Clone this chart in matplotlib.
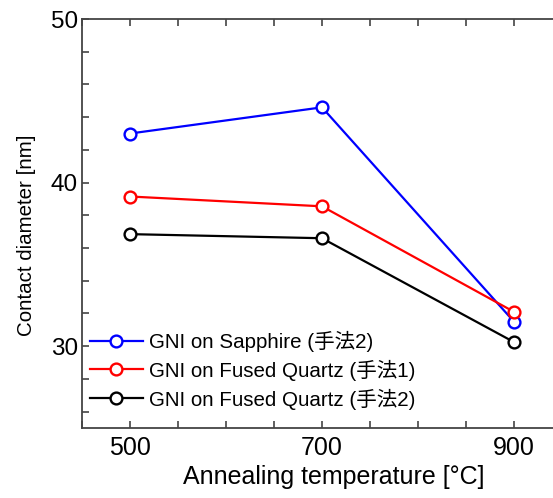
import matplotlib
matplotlib.use("Agg")
import matplotlib.pyplot as plt
from matplotlib.ticker import MultipleLocator

plt.rcParams['font.family'] = ['Liberation Sans', 'Noto Sans CJK JP', 'DejaVu Sans']

temps = [500, 700, 900]
sapphire_m2 = [43.0, 44.6, 31.5]
quartz_m1 = [39.15, 38.55, 32.1]
quartz_m2 = [36.85, 36.6, 30.25]
labels = ["GNI on Sapphire (手法2)", "GNI on Fused Quartz (手法1)", "GNI on Fused Quartz (手法2)"]
colors = ["#0000ff", "#ff0000", "#000000"]

fig = plt.figure(figsize=(5.53, 4.98), dpi=100)
ax = fig.add_axes([82/553, 1-428/498, (562-82)/553, (428-19)/498])

for ys, c, lab in zip([sapphire_m2, quartz_m1, quartz_m2], colors, labels):
    ax.plot(temps, ys, color=c, lw=1.6, marker='o', ms=8.5, mfc='white',
            mec=c, mew=1.7, label=lab)

ax.set_xlim(450, 950)
ax.set_ylim(25, 50)
ax.set_xticks([500, 700, 900])
ax.xaxis.set_minor_locator(MultipleLocator(50))
ax.set_yticks([30, 40, 50])
ax.yaxis.set_minor_locator(MultipleLocator(2))
ax.tick_params(which='both', direction='in', top=True, right=False,
               length=5, width=1.2, color='#444444')
ax.tick_params(axis='x', labelsize=18, pad=6)
ax.tick_params(axis='y', labelsize=17.5, pad=3)
for s in ['left', 'bottom', 'top']:
    ax.spines[s].set_color('#444444')
    ax.spines[s].set_linewidth(1.3)
ax.spines['right'].set_visible(False)

ax.set_xlabel("Annealing temperature [°C]", fontsize=18)
ax.set_ylabel("Contact diameter [nm]", fontsize=14.8)
ax.xaxis.set_label_coords((334-82)/480, (428-465)/409)
ax.yaxis.set_label_coords((36-82)/480, (428-235)/409)

ax.legend(loc='lower left', bbox_to_anchor=(0.0, 0.025), frameon=False,
          fontsize=14.8, handlelength=2.55, handletextpad=0.3, labelspacing=0.38,
          borderaxespad=0.2, borderpad=0.2)

fig.savefig("out.png", dpi=100)
